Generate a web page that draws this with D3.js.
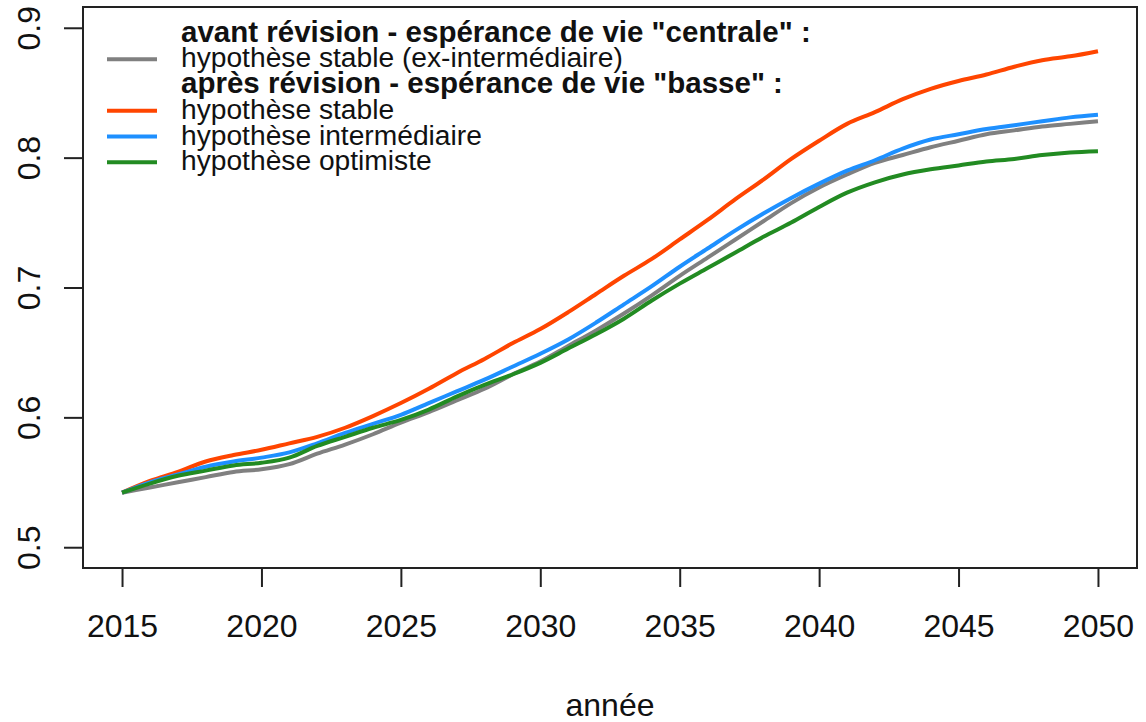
<!DOCTYPE html>
<html>
<head>
<meta charset="utf-8">
<script src="https://cdn.jsdelivr.net/npm/d3@7.9.0/dist/d3.min.js"></script>
<style>
  body { margin: 0; background: #fff; }
  svg { display: block; font-family: "Liberation Sans", Arial, sans-serif; }
</style>
</head>
<body>
<svg id="chart" width="1146" height="722"></svg>
<script>
// data (one value per year)
const years = d3.range(2015, 2051);
const avantStable = [0.542,0.546,0.550,0.554,0.558,0.560,0.564,0.572,0.579,0.587,0.596,0.604,0.613,0.622,0.633,0.643,0.655,0.667,0.680,0.694,0.709,0.723,0.737,0.751,0.765,0.777,0.787,0.796,0.802,0.808,0.813,0.818,0.821,0.824,0.826,0.828];
const apresStable = [0.542,0.551,0.558,0.566,0.571,0.575,0.580,0.585,0.592,0.601,0.611,0.622,0.634,0.645,0.657,0.668,0.681,0.695,0.709,0.722,0.737,0.752,0.768,0.783,0.799,0.813,0.826,0.835,0.845,0.853,0.859,0.864,0.870,0.875,0.878,0.882];
const apresInter = [0.542,0.550,0.556,0.562,0.566,0.569,0.573,0.580,0.588,0.595,0.602,0.611,0.620,0.629,0.639,0.649,0.660,0.673,0.687,0.701,0.716,0.730,0.744,0.757,0.769,0.780,0.790,0.798,0.807,0.814,0.818,0.822,0.825,0.828,0.831,0.833];
const apresOptim = [0.542,0.549,0.555,0.559,0.563,0.565,0.569,0.578,0.585,0.592,0.598,0.606,0.616,0.625,0.633,0.642,0.653,0.664,0.676,0.690,0.703,0.715,0.727,0.739,0.750,0.762,0.773,0.781,0.787,0.791,0.794,0.797,0.799,0.802,0.804,0.805];

const xTicks = [2015, 2020, 2025, 2030, 2035, 2040, 2045, 2050];
const yTicks = [0.5, 0.6, 0.7, 0.8, 0.9];

// series in drawing order (grey first, green last)
const series = [
  { name: "hypothèse stable (ex-intermédiaire)", values: avantStable, color: "#808080" },
  { name: "hypothèse stable", values: apresStable, color: "#FF4500" },
  { name: "hypothèse intermédiaire", values: apresInter, color: "#1E90FF" },
  { name: "hypothèse optimiste", values: apresOptim, color: "#228B22" }
];

// legend rows: headers have no line
const legendRows = [
  { label: 'avant révision - espérance de vie "centrale" :', bold: true },
  { label: "hypothèse stable (ex-intermédiaire)", color: "#808080" },
  { label: 'après révision - espérance de vie "basse" :', bold: true },
  { label: "hypothèse stable", color: "#FF4500" },
  { label: "hypothèse intermédiaire", color: "#1E90FF" },
  { label: "hypothèse optimiste", color: "#228B22" }
];

const svg = d3.select("#chart");
const box = { left: 83, right: 1137, top: 7, bottom: 568 };

// R style: 4% padding around the range
const x = d3.scaleLinear().domain([2013.6, 2051.4]).range([box.left, box.right]);
const y = d3.scaleLinear().domain([0.484, 0.916]).range([box.bottom, box.top]);

// lines
const line = d3.line()
  .x((d, i) => x(years[i]))
  .y(d => y(d))
  .curve(d3.curveMonotoneX);

svg.append("g")
  .selectAll("path")
  .data(series)
  .join("path")
  .attr("d", d => line(d.values))
  .attr("fill", "none")
  .attr("stroke", d => d.color)
  .attr("stroke-width", 4)
  .attr("stroke-linejoin", "round");

// x axis
const xAxis = svg.append("g")
  .attr("transform", `translate(0,${box.bottom})`)
  .call(d3.axisBottom(x).tickValues(xTicks).tickFormat(d3.format("d"))
    .tickSize(19).tickSizeOuter(0).tickPadding(27));
xAxis.select(".domain").remove();
xAxis.selectAll(".tick line").attr("stroke", "#222").attr("stroke-width", 2);
xAxis.selectAll("text")
  .attr("font-size", 32)
  .attr("font-family", "Liberation Sans, Arial, sans-serif")
  .attr("fill", "#111");

// y axis, labels rotated like R's default
const yAxis = svg.append("g")
  .attr("transform", `translate(${box.left},0)`)
  .call(d3.axisLeft(y).tickValues(yTicks).tickFormat(d3.format(".1f"))
    .tickSize(19).tickSizeOuter(0));
yAxis.select(".domain").remove();
yAxis.selectAll(".tick line").attr("stroke", "#222").attr("stroke-width", 2);
yAxis.selectAll("text")
  .attr("transform", "rotate(-90)")
  .attr("x", 0)
  .attr("y", -43)
  .attr("dy", 0)
  .attr("text-anchor", "middle")
  .attr("font-size", 32)
  .attr("font-family", "Liberation Sans, Arial, sans-serif")
  .attr("fill", "#111");

// box
svg.append("rect")
  .attr("x", box.left)
  .attr("y", box.top)
  .attr("width", box.right - box.left)
  .attr("height", box.bottom - box.top)
  .attr("fill", "none")
  .attr("stroke", "#222")
  .attr("stroke-width", 2);

// axis title
svg.append("text")
  .attr("x", (box.left + box.right) / 2)
  .attr("y", 716)
  .attr("text-anchor", "middle")
  .attr("font-size", 32)
  .attr("fill", "#111")
  .text("année");

// legend
const legend = svg.append("g");
const rowY = d3.scaleLinear().domain([0, 5]).range([33.5, 162.3]);

legendRows.forEach((r, i) => {
  const ly = rowY(i);
  if (r.color) {
    legend.append("line")
      .attr("x1", 107).attr("x2", 157)
      .attr("y1", ly).attr("y2", ly)
      .attr("stroke", r.color)
      .attr("stroke-width", 4);
  }
  legend.append("text")
    .attr("x", 181)
    .attr("y", ly + 8)
    .attr("font-size", r.bold ? 29.5 : 28.2)
    .attr("font-weight", r.bold ? "bold" : "normal")
    .attr("fill", "#111")
    .text(r.label);
});
</script>
</body>
</html>
